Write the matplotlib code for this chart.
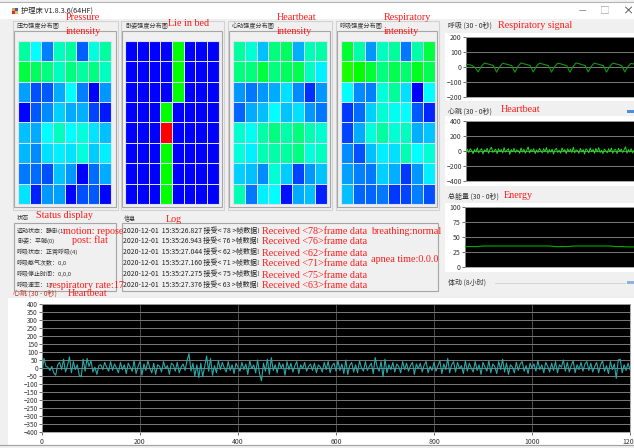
"""护理床监测界面复刻：四张强度分布图、状态/日志和四条波形。"""
import numpy as np
import matplotlib.pyplot as plt
from matplotlib.colors import LinearSegmentedColormap
from matplotlib.patches import Rectangle

W, H = 634, 448
plt.rcParams["font.family"] = ["Noto Sans CJK SC", "DejaVu Sans"]

# 8x8 强度分布：0 蓝 -> 4 青 -> 8 绿 -> 16 红
PRESSURE = [
    [5.5, 4, 2, 5, 5.5, 1.5, 4.5, 5.5],
    [7, 6.5, 6, 5, 6, 5.5, 6, 5],
    [2.5, 1.3, 1.4, 2.7, 4, 2, 0, 2.4],
    [0.1, 1.4, 2.2, 3.3, 2.7, 2.8, 1.1, 0.4],
    [3, 2.7, 4, 5, 4, 4.6, 3.6, 3],
    [2.9, 2.2, 3.5, 3.8, 3.6, 4.6, 3.2, 3.8],
    [1.9, 1.7, 1.3, 3.1, 2.4, 0, 1.7, 2.7],
    [3.6, 0.5, 2.4, 2.5, 0.1, 1.3, 1.4, 0.1],
]
POSTURE = [
    [0, 0, 0, 0, 8, 0, 0, 0],
    [0, 0, 0, 0, 8, 0, 0, 0],
    [0, 0, 0, 0, 8, 0, 0, 0],
    [0, 0, 0, 8, 0, 0, 0, 0],
    [0, 0, 0, 16, 0, 0, 0, 0],
    [0, 0, 0, 8, 0, 0, 0, 0],
    [0, 0, 0, 8, 0, 0, 0, 0],
    [0, 0, 0, 8, 0, 0, 0, 0],
]
HEART_MAP = [
    [5.5, 4.7, 3, 6, 6.5, 2.8, 5.2, 5.4],
    [6, 6.1, 7, 6, 6.5, 6.8, 5, 3.8],
    [2.4, 1.9, 2.4, 2.7, 3.5, 2.2, 0.8, 2.4],
    [1.6, 2.7, 3, 4, 3.1, 3.5, 2.4, 1.9],
    [4.8, 4.2, 5.4, 6, 5.4, 6.1, 5.3, 4.8],
    [4.6, 3.8, 5.2, 5.4, 5.5, 6, 4.6, 5],
    [3.3, 3, 2.2, 4.7, 3.2, 1.1, 2.4, 3.1],
    [5.2, 1.9, 3.8, 4, 0.3, 2.7, 3, 0.5],
]
RESP_MAP = [
    [7.2, 5.4, 2.4, 5, 5.6, 1.9, 5.4, 7],
    [8.4, 8, 7.2, 6, 6.8, 6.3, 7.5, 6.8],
    [4, 2.2, 2, 4.6, 5.6, 3.5, 0, 4],
    [0.9, 1.7, 3.3, 4.7, 4.2, 4, 1.4, 0.6],
    [1.1, 2.7, 4.6, 5.5, 4.7, 5, 2.8, 3.1],
    [2.2, 1.3, 3, 3.8, 3.5, 5.2, 4, 4.7],
    [2.5, 2, 1.9, 3.3, 2.8, 0.9, 2.4, 3.8],
    [3, 1.6, 1.6, 1.9, 0.9, 1.1, 2, 1.3],
]

RESP_WAVE = [
    18, 15, 10, -4, -33, 3, 26, 21, 16, 9, -34, 1, 25, 20, 15, 8, -35, 4, 27, 21,
    16, 10, -33, 2, 26, 20, 15, 9, -34, 3, 25, 21, 15, 8, -35, 2, 27, 22, 16, 10,
    -33, 4, 26, 20, 15, 9, -34, 2, 25, 21, 16, 8, -33, 3, 24, 20,
]
HEART_WAVE = [
    -10, 25, -20, 30, 5, -35, 20, -15, 40, -25, 10, 30, -40, 15, -5, 35, -30, 20, 50, -20,
    5, 25, -35, 30, -10, 20, -25, 45, -15, 10, 30, -45, 20, -10, 35, -20, 15, 5, -30, 40,
    -15, 25, -30, 10, 55, -25, 20, -5, 30, -35, 15, -20, 35, 5, -25, 30, -10, 45, -30, 20,
    -15, 25, -40, 15, 35, -20, 10, -30, 40, -5, 20, -35, 30, -10, 25, -20, 50, -25, 15, 5,
    -30, 35, -15, 20, -40, 30, 10, -25, 40, -10, 20, -30, 35, -15, 45, -20, 10, -35, 25, 5,
    -25, 30, -10, 40, -30, 15, 20, -35, 35, -5, 25, -20, 15, 55, -30, 20, -15, 30, -25, 10,
]
ENERGY = [34, 34, 34, 35, 35, 35, 35, 35, 35, 35, 35, 35, 35, 35, 35, 34, 34, 34,
          35, 35, 35, 35, 35, 35, 35, 34, 34, 33.5, 33.5]
HEART_LONG = [
    -20, 60, 10, 5, -15, 10, -30, -45, 20, 35, -10, 55, -25, 15, 70, -30, 40, -10, 20, -45,
    -55, 55, -20, 60, 10, 45, -25, 5, -40, 15, 20, -10, 35, 5, -20, 40, -15, 25, 0, -30,
    35, -10, 20, -35, 30, 5, -20, 45, -35, 10, 40, -45, 25, -15, 45, 0, -30, 30, -40, 20,
    10, -25, 40, -5, 15, -40, 30, 20, -20, 35, -30, 5, 25, -15, 45, 90, -20, 30, -50, 20,
    -60, 30, -55, 10, 75, -20, 60, -45, 15, -30, 45, -10, 35, 0, -25, 40, -15, 20, -35, 30,
    5, -20, 35, -10, 25, -40, 45, -5, 20, -30, 50, -35, -80, 30, -20, 55, -40, 65, -15, 20,
    -30, 35, 0, 25, -45, 40, -10, 30, -25, 15, 40, -35, 20, -5, 35, -20, 10, 25, -15, 30,
    -30, 20, 5, -25, 35, -10, 40, -30, 15, 30, -20, 45, -15, 25, -35, 50, -40, 15, 35, -25,
    20, -30, 45, 0, -20, 40, -15, 10, 30, -35, 65, 5, -20, 40, -55, 55, -30, 20, -10, 35,
    -25, 25, 10, -30, 40, -10, 30, -20, 15, 35, -40, 25, -5, 30, -25, 20, 40, -30, 10, -15,
    35, -20, 15, 45, -35, 25, -10, 60, -30, 20, 40, -25, 35, -5, 15, -35, 45, -20, 30, 0,
    -25, 40, -15, 20, -40, 35, 5, -20, 45, -30, 25, 10, -35, 40, -10, 55, -25, 30, -40, 20,
    5, -30, 35, -15, 25, 40, -20, 15, -35, 30, 0, 25, -20, 45, -10, 20, -30, 35, 10, -25,
    30, -15, 40, -30, 20, 5, 50, -20, 35, -25, 15, 45, -30, 20, -10, 35, -20, 25, 40, -15,
    30, -25, 10, 35, -30, 20, 45, -20, 15, -35, 40, -10, 25, -65, 50, 55, -30, 20, -15, 30,
    -10,
]
HEART_LONG_STEP = 4

STATUS_LINES = ["运动状态：静卧(1)", "卧姿：平躺(0)", "呼吸状态：正常呼吸(4)",
                "呼吸憋气次数：0,0", "呼吸停止时间：0,0,0", "呼吸速率：17"]
LOG_TIMES = ["15:35:26.827", "15:35:26.943", "15:35:27.044",
             "15:35:27.160", "15:35:27.275", "15:35:27.376"]
LOG_FRAMES = [78, 76, 62, 71, 75, 63]

CMAP = LinearSegmentedColormap.from_list(
    "bed", ["#0000ff", "#00ffff", "#00ff00", "#ffff00", "#ff0000"])
RED = "#ff1a1a"
SERIF = ["Liberation Serif", "DejaVu Serif"]
GRIDLINE = "#dedef2"


def frame(x0, y0, x1, y1):
    return [x0 / W, 1 - y1 / H, (x1 - x0) / W, (y1 - y0) / H]


def heat(fig, grid, x0, x1):
    ax = fig.add_axes(frame(x0, 41, x1, 204))
    ax.pcolormesh(np.array(grid), cmap=CMAP, vmin=0, vmax=16,
                  edgecolors=GRIDLINE, linewidth=0.55)
    ax.set_xlim(0, 8)
    ax.set_ylim(8, 0)
    ax.set_xticks([])
    ax.set_yticks([])
    for spine in ax.spines.values():
        spine.set_color(GRIDLINE)
        spine.set_linewidth(0.8)


def scope(fig, box, values, ylim, yticks, color, xs=None, lw=0.8, size=5):
    ax = fig.add_axes(frame(*box))
    ax.set_facecolor("black")
    xs = np.arange(len(values)) if xs is None else xs
    ax.plot(xs, values, color=color, linewidth=lw, zorder=3)
    ax.set_xlim(xs[0], xs[-1])
    ax.set_ylim(*ylim)
    ax.set_yticks(yticks)
    ax.grid(axis="y", color="#7a7a7a", linewidth=0.7)
    ax.tick_params(labelsize=size, length=2, width=0.5, pad=1, colors="#333333")
    for spine in ax.spines.values():
        spine.set_color("#9a9a9a")
        spine.set_linewidth(0.6)
    return ax


def main():
    fig = plt.figure(figsize=(W / 100, H / 100), dpi=100)
    fig.patch.set_facecolor("#f0f0f0")
    bg = fig.add_axes([0, 0, 1, 1])
    bg.set_xlim(0, W)
    bg.set_ylim(H, 0)
    bg.axis("off")

    # 标题栏
    bg.add_patch(Rectangle((0, 2.5), W, 17, fc="white", ec="none"))
    bg.plot([0, W], [2.5, 2.5], color="#b4b4b4", linewidth=0.8)
    for (dx, dy), c in zip([(0, 0), (3, 0), (0, 3), (3, 3)],
                           ["#e8a030", "#3060c0", "#d03030", "#f0c040"]):
        bg.add_patch(Rectangle((12 + dx, 8 + dy), 3, 3, fc=c, ec="none"))
    bg.text(21, 11, "护理床 V1.8.3.6(64HF)", fontsize=5.2, va="center", color="#222222")
    bg.text(582, 11, "—", fontsize=6, va="center", ha="center", color="#777777")
    bg.text(605, 11, "□", fontsize=7, va="center", ha="center", color="#aaaaaa")
    bg.text(628, 11, "×", fontsize=8, va="center", ha="center", color="#333333")

    # 分布图分组框
    boxes = [(14, 116, "压力强度分布图"), (122, 222, "卧姿强度分布图"),
             (229, 330, "心动强度分布图"), (337, 437, "呼吸强度分布图")]
    for x0, x1, title in boxes:
        bg.add_patch(Rectangle((x0 - 1.5, 21), x1 - x0 + 3, 189, fc="none",
                               ec="#d2d2d2", linewidth=0.8))
        bg.add_patch(Rectangle((x0, 31), x1 - x0, 176, fc="#f0f0f0",
                               ec="#a6a6a6", linewidth=0.8))
        bg.text(x0 + 3, 26, title, fontsize=4.4, va="center", color="#333333")

    # 状态 / 信息
    bg.add_patch(Rectangle((14, 223), 102, 68, fc="#f0f0f0", ec="#a6a6a6", linewidth=0.8))
    bg.add_patch(Rectangle((122, 223), 316, 68, fc="#f0f0f0", ec="#a6a6a6", linewidth=0.8))
    bg.text(17, 218, "状态", fontsize=4.4, va="center", color="#333333")
    bg.text(124, 219, "信息", fontsize=4.4, va="center", color="#333333")
    rows_y = [231, 241, 252, 263, 274, 285]
    for y, line in zip(rows_y, STATUS_LINES):
        bg.text(17, y, line, fontsize=4.3, va="center", color="#333333")
    for y, t, n in zip(rows_y, LOG_TIMES, LOG_FRAMES):
        bg.text(123, y, f"2020-12-01  {t} 接受< {n} >帧数据!", fontsize=5.0,
                va="center", color="#222222")

    # 右侧波形面板
    for y0, y1 in [(33, 101), (116, 186), (203, 272)]:
        bg.add_patch(Rectangle((445, y0), W - 445, y1 - y0, fc="white", ec="none"))
    for y, label in [(26, "呼吸 (30 - 0秒)"), (112, "心跳 (30 - 0秒)"),
                     (197, "总能量 (30 - 0秒)"), (283, "体动 (8小时)")]:
        bg.text(448, y, label, fontsize=5, va="center", color="#333333")
    bg.plot([495, 625], [283, 283], color="#d4d4d4", linewidth=0.7)
    bg.add_patch(Rectangle((627, 281.5), 7, 3, fc="#8fb4d8", ec="none"))
    bg.add_patch(Rectangle((627, 110.5), 7, 3, fc="#4a90d8", ec="none"))

    # 底部心跳面板
    bg.add_patch(Rectangle((8, 298), W - 8, 147, fc="white", ec="none"))
    bg.plot([0, W], [445.5, 445.5], color="#a0a0a0", linewidth=0.8)
    bg.text(13, 294, "心跳 (30 - 0秒)", fontsize=5, va="center", color="#c0392b")

    heat(fig, PRESSURE, 18, 111)
    heat(fig, POSTURE, 125, 219)
    heat(fig, HEART_MAP, 233, 327)
    heat(fig, RESP_MAP, 341, 435)

    for ax in [
        scope(fig, (466, 37, 634, 97), RESP_WAVE, (-200, 200),
              [-200, -100, 0, 100, 200], "#0c9a0c"),
        scope(fig, (466, 121, 634, 181), HEART_WAVE, (-400, 400),
              [-400, -200, 0, 200, 400], "#1fdc1f", lw=0.7),
        scope(fig, (465, 207, 634, 267), ENERGY, (0, 100),
              [0, 25, 50, 75, 100], "#00b000"),
    ]:
        ax.set_xticks([])

    xs = np.arange(len(HEART_LONG)) * HEART_LONG_STEP
    ax = scope(fig, (42, 304, 630, 432), HEART_LONG, (-400, 400),
               np.arange(-400, 401, 50), "#2aa8a8", xs=xs, lw=0.8, size=4.6)
    ax.set_xticks(np.arange(0, 1201, 200))
    ax.grid(axis="x", color="#5a5a5a", linewidth=0.6)
    ax.tick_params(axis="x", labelsize=5, pad=2)

    # 红色英文注释
    top = fig.add_axes([0, 0, 1, 1])
    top.set_xlim(0, W)
    top.set_ylim(H, 0)
    top.axis("off")
    top.patch.set_alpha(0)
    notes = [
        (66, 18, "Pressure"), (66, 32, "intensity"), (168, 24, "Lie in bed"),
        (277, 17, "Heartbeat"), (277, 32, "intensity"),
        (384, 17, "Respiratory"), (384, 32, "intensity"),
        (36, 215, "Status display"), (166, 219, "Log"),
        (63, 231, "motion: repose"), (72, 240, "post: flat"),
        (49, 285, "respiratory rate:17"), (68, 294, "Heartbeat"),
        (371, 232, "breathing:normal"), (371, 259, "apnea time:0.0.0"),
        (498, 26, "Respiratory signal"), (501, 110, "Heartbeat"), (504, 196, "Energy"),
    ]
    for y, n in zip([231, 242, 253, 264, 275, 286], LOG_FRAMES):
        notes.append((262, y, f"Received <{n}>frame data"))
    for x, y, text in notes:
        top.text(x, y, text, fontsize=7.3, family=SERIF, color=RED, va="center")

    fig.savefig("out.png", dpi=100, facecolor=fig.get_facecolor())
    plt.close(fig)


if __name__ == "__main__":
    main()
